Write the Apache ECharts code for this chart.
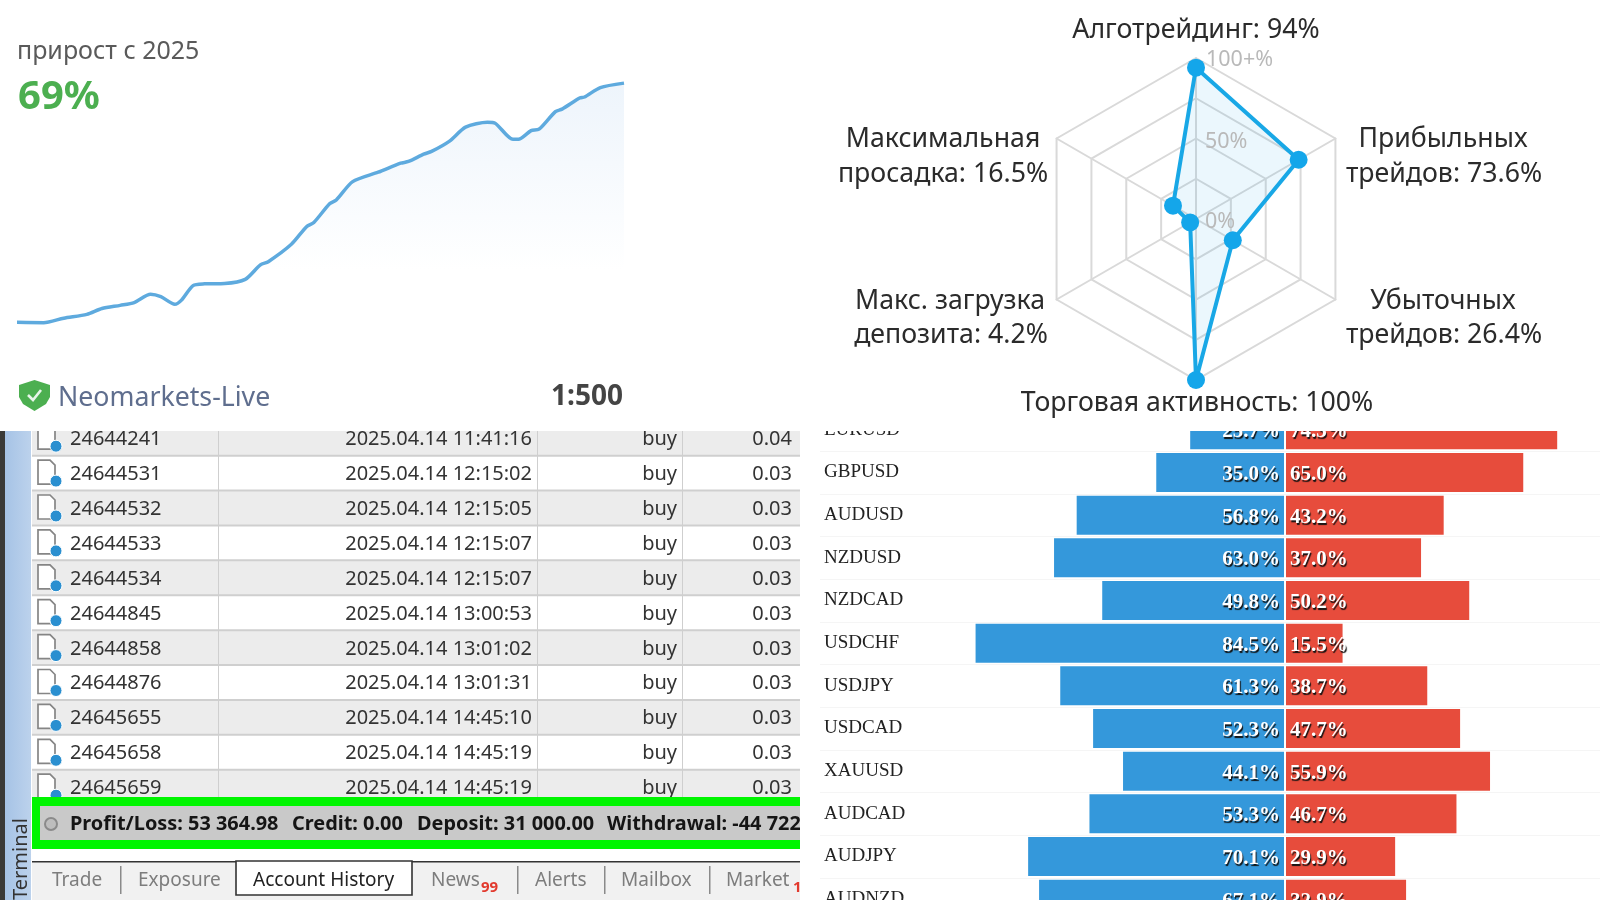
<!DOCTYPE html>
<html><head><meta charset="utf-8">
<style>html,body{margin:0;padding:0;background:#fff}#c{width:1600px;height:900px}</style>
<script src="https://cdn.jsdelivr.net/npm/echarts@6/dist/echarts.min.js"></script>
</head><body><div id="c"></div>
<script>
// Growth curve: period position (0-100) and growth since 2025 (%)
var growthX = [0,4.4,7.7,11.5,14,17,19.3,22,23.7,26,27.1,29,30.9,34.2,37.6,40.1,41.4,45.2,47.7,48.9,51.5,52.6,55.3,59.5,63.2,64.5,67,68.3,71.2,73.9,77.5,78.8,81.7,82.6,84.7,86,88.7,89.8,92.7,93.5,96.1,100];
var growthY = [0,-0.1,1.2,2.3,4,4.9,5.7,8.1,7.4,5.2,6.4,10.6,11.1,11.2,12.4,16.6,17.5,22.5,27.6,28.8,34.2,35.3,40.6,43.3,45.9,46.4,48.5,49.3,52.2,56.3,57.7,57.4,52.8,52.8,55.3,55.7,60.8,61.5,64.7,65,67.7,69];
// Radar (counter-clockwise from the top)
var radarKeys = ['Алготрейдинг','Максимальная просадка','Макс. загрузка депозита','Торговая активность','Убыточных трейдов','Прибыльных трейдов'];
var radarValues = [94,16.5,4.2,100,26.4,73.6];
// Pairs
var pairs = ['EURUSD','GBPUSD','AUDUSD','NZDUSD','NZDCAD','USDCHF','USDJPY','USDCAD','XAUUSD','AUDCAD','AUDJPY','AUDNZD'];
var buyShare = [25.7,35.0,56.8,63.0,49.8,84.5,61.3,52.3,44.1,53.3,70.1,67.1];
var sellShare = [74.3,65.0,43.2,37.0,50.2,15.5,38.7,47.7,55.9,46.7,29.9,32.9];
// Trade table
var tradeIds = ['24644241','24644531','24644532','24644533','24644534','24644845','24644858','24644876','24645655','24645658','24645659'];
var tradeTimes = ['2025.04.14 11:41:16','2025.04.14 12:15:02','2025.04.14 12:15:05','2025.04.14 12:15:07','2025.04.14 12:15:07','2025.04.14 13:00:53','2025.04.14 13:01:02','2025.04.14 13:01:31','2025.04.14 14:45:10','2025.04.14 14:45:19','2025.04.14 14:45:19'];
var tradeSides = ['buy','buy','buy','buy','buy','buy','buy','buy','buy','buy','buy'];
var tradeLots = ['0.04','0.03','0.03','0.03','0.03','0.03','0.03','0.03','0.03','0.03','0.03'];
var statusTexts = ['Profit/Loss: 53 364.98','Credit: 0.00','Deposit: 31 000.00','Withdrawal: -44 722'];
var tabNames = ['Trade','Exposure','Account History','News','Alerts','Mailbox','Market'];

var F = '"Noto Sans", sans-serif', S = '"Liberation Serif", serif';
var g = [];
function txt(t, x, y, size, fill, o) {
  o = o || {};
  g.push({type:'text', z:o.z||60, x:x, y:y, scaleX:o.sx||1, scaleY:o.sy||1, rotation:o.rot||0,
    style:{text:t, x:0, y:0, fill:fill, font:(o.bold?'bold ':'')+size+'px '+(o.fam||F), textAlign:o.align||'left', textVerticalAlign:'middle'}});
}
function rect(x, y, w, h, fill, z) {
  g.push({type:'rect', z:z||10, shape:{x:x,y:y,width:w,height:h}, style:{fill:fill}});
}

// ---- terminal panel ----
rect(0,431,800,469,'#fff',1);
rect(0,431,5,469,'#3a3a38',2);
g.push({type:'rect', z:2, shape:{x:5,y:431,width:26,height:469}, style:{fill:new echarts.graphic.LinearGradient(0,0,1,0,[{offset:0,color:'#a6c3e6'},{offset:1,color:'#bcd2ec'}])}});
var rowH = 34.9, row0 = 438.2;
tradeIds.forEach(function(id,i){
  var cy = row0 + i*rowH, top = cy-rowH/2, ty = cy+1.2;
  rect(32,top,768,rowH,i%2===0?'#ececec':'#ffffff',3);
  rect(32,top+rowH-1,768,2,'#cfcfcf',4);
  [218,537,682].forEach(function(x){ rect(x,top,1,rowH,'#cfcfcf',4); });
  g.push({type:'polygon', z:5, shape:{points:[[38,cy-13],[50,cy-13],[55,cy-8],[55,cy+11],[38,cy+11]]}, style:{fill:'#fff',stroke:'#858585',lineWidth:1.7}});
  g.push({type:'circle', z:6, shape:{cx:56,cy:cy+8,r:6}, style:{fill:'#2a8fd0',stroke:'#ffffff',lineWidth:1}});
  txt(id,70,ty,20,'#333',{z:7});
  txt(tradeTimes[i],532,ty,20,'#333',{z:7,align:'right'});
  txt(tradeSides[i],677,ty,20,'#333',{z:7,align:'right'});
  txt(tradeLots[i],792,ty,20,'#333',{z:7,align:'right'});
});
rect(32,797,768,52,'#00f500',8);
rect(40,806,760,34,'#c9c9c9',9);
g.push({type:'circle', z:10, shape:{cx:51,cy:824,r:6}, style:{fill:'#bdbdbd',stroke:'#8a8a8a',lineWidth:2}});
[70,292,417,607].forEach(function(x,i){ txt(statusTexts[i],x,824,19.9,'#151515',{z:10,bold:true}); });
rect(32,849,768,12,'#fff',8);
rect(32,861,768,39,'#f1f1f1',8);
rect(32,861,204,1.6,'#333',9);
rect(412,861,388,1.6,'#333',9);
g.push({type:'rect', z:9, shape:{x:236,y:861,width:176,height:34}, style:{fill:'#fff',stroke:'#333',lineWidth:1.6}});
[52,138,253,431,535,621,726].forEach(function(x,i){ txt(tabNames[i],x,881,19,i===2?'#222':'#7d7d7d',{z:10}); });
txt('99',481,888,15,'#e23a2e',{z:10,bold:true});
txt('1',793,888,15,'#e23a2e',{z:10,bold:true});
[120,517,604,709].forEach(function(x){ rect(x,866,1.5,28,'#8a8a8a',10); });
txt('Terminal',21,859,20,'#333',{z:10,rot:Math.PI/2,align:'center'});
// masks: crop the panels at the collage edges
rect(800,431,20,469,'#fff',40);
rect(0,400,1600,31,'#fff',50);

// ---- growth card ----
txt('прирост с 2025',17,52,25,'#5a5a5a');
txt('69%',18,98,40,'#4caf50',{bold:true});
txt('Neomarkets-Live',58,398,26.7,'#5f6e8e');
txt('1:500',623,397,28,'#444',{bold:true,align:'right'});
g.push({type:'polygon', z:60, shape:{points:[[34.5,380],[50,385],[50,397],[46,404],[34.5,411],[23,404],[19,397],[19,385]]}, style:{fill:'#4caf50'}});
g.push({type:'polyline', z:61, shape:{points:[[28,395],[33,400],[41,390]]}, style:{fill:'none',stroke:'#e8f5e9',lineWidth:2.6}});

// ---- radar labels ----
var c = '#2b2b2b';
txt('Алготрейдинг: 94%',1196,30,26.7,c,{align:'center'});
txt('Максимальная',943,139,26.7,c,{align:'center'});
txt('просадка: 16.5%',943,174,26.7,c,{align:'center'});
txt('Прибыльных',1443,139,26.7,c,{align:'center'});
txt('трейдов: 73.6%',1444,174,26.7,c,{align:'center'});
txt('Макс. загрузка',950,301,26.7,c,{align:'center'});
txt('депозита: 4.2%',951,335,26.7,c,{align:'center'});
txt('Убыточных',1443,301,26.7,c,{align:'center'});
txt('трейдов: 26.4%',1444,335,26.7,c,{align:'center'});
txt('Торговая активность: 100%',1197,403,26.7,c,{align:'center'});
txt('100+%',1206,60,21.5,'#b9b9b9');
txt('50%',1205,142,21.5,'#b9b9b9');
txt('0%',1205,222,21.5,'#b9b9b9');

var chart = echarts.init(document.getElementById('c'), null, {renderer:'canvas'});
var barLabel = {show:true, color:'#fff', fontFamily:S, fontWeight:'bold', fontSize:21,
  textShadowColor:'#111', textShadowOffsetX:1, textShadowOffsetY:2, textShadowBlur:1,
  formatter:function(p){return p.value.toFixed(1)+'%';}};
chart.setOption({
  animation:false,
  backgroundColor:'#fff',
  graphic:{elements:g},
  grid:[
    {left:17, top:45, width:607, height:312},
    {left:820, top:408.5, width:780, height:512, outerBoundsMode:'none'},
    {left:919, top:408.5, width:365, height:512, outerBoundsMode:'none'},
    {left:1286, top:408.5, width:365, height:512, outerBoundsMode:'none'}
  ],
  xAxis:[
    {gridIndex:0, type:'value', min:0, max:100, show:false},
    {gridIndex:1, type:'value', min:0, max:100, show:false},
    {gridIndex:2, type:'value', min:0, max:100, inverse:true, show:false},
    {gridIndex:3, type:'value', min:0, max:100, show:false}
  ],
  yAxis:[
    {gridIndex:0, type:'value', min:-10, max:80, show:false},
    {gridIndex:1, type:'category', inverse:true, data:pairs,
      axisLine:{show:false}, axisTick:{show:false},
      axisLabel:{inside:true, margin:4, color:'#222', fontFamily:S, fontSize:19, interval:0, padding:[2,0,0,0]},
      splitLine:{show:true, interval:0, lineStyle:{color:'#f5f5f5'}}},
    {gridIndex:2, type:'category', inverse:true, data:pairs, show:false},
    {gridIndex:3, type:'category', inverse:true, data:pairs, show:false}
  ],
  radar:{
    center:[1196,219], radius:161, startAngle:90, splitNumber:4, shape:'polygon',
    indicator:radarKeys.map(function(n){return {name:n,min:0,max:100};}),
    axisName:{show:false},
    splitArea:{show:false},
    splitLine:{lineStyle:{color:'#d9d9d9',width:2}},
    axisLine:{lineStyle:{color:'#d9d9d9',width:2}},
    axisTick:{show:false}, axisLabel:{show:false}
  },
  series:[
    {type:'line', xAxisIndex:0, yAxisIndex:0, z:20, smooth:0.25, showSymbol:false,
      data:growthX.map(function(x,i){return [x,growthY[i]];}),
      lineStyle:{color:'#5eaade',width:3.5},
      areaStyle:{color:new echarts.graphic.LinearGradient(0,0,0,1,[{offset:0,color:'#e6f0fa'},{offset:0.78,color:'#ffffff'},{offset:1,color:'#ffffff'}])}},
    {type:'radar', z:20, symbol:'circle', symbolSize:18,
      data:[{value:radarValues}],
      itemStyle:{color:'#14a6ea'},
      lineStyle:{color:'#19a8e6',width:4},
      areaStyle:{color:'rgba(25,168,230,0.12)'}},
    {type:'bar', xAxisIndex:2, yAxisIndex:2, z:5, barWidth:39, data:buyShare,
      itemStyle:{color:'#3498db'},
      label:Object.assign({position:'insideRight',distance:4,offset:[0,2]},barLabel)},
    {type:'bar', xAxisIndex:3, yAxisIndex:3, z:5, barWidth:39, data:sellShare,
      itemStyle:{color:'#e74c3c'},
      label:Object.assign({position:'insideLeft',distance:4,offset:[0,2]},barLabel)}
  ]
});
</script></body></html>
